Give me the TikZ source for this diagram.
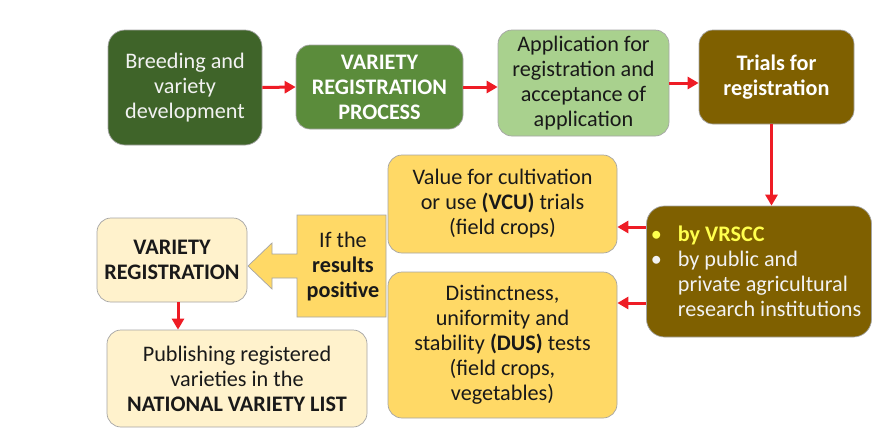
\documentclass[tikz,border=0pt]{standalone}
\usepackage{fontspec}
\setmainfont{Carlito}
\usetikzlibrary{arrows.meta}

\definecolor{greenD}{HTML}{3F6429}
\definecolor{greenM}{HTML}{5B8C3B}
\definecolor{greenL}{HTML}{A9D18E}
\definecolor{olive}{HTML}{7F6000}
\definecolor{goldL}{HTML}{FFD966}
\definecolor{creamL}{HTML}{FFF2CC}
\definecolor{arrred}{HTML}{EE1C25}
\definecolor{vrsccY}{HTML}{FFFF4D}
\definecolor{edgeG}{HTML}{A5A5A5}

\tikzset{
  txt/.style={font=\fontsize{22.2}{25}\selectfont, align=center},
  box/.style={txt, rounded corners=14pt, draw=edgeG, line width=0.7pt, inner sep=0pt},
  arr/.style={draw=arrred, line width=3pt, -{Triangle[length=11pt,width=12pt]}},
}

\begin{document}
\begin{tikzpicture}[x=1pt,y=-1pt]
\useasboundingbox[fill=white] (0,0) rectangle (874,437);

% top row
\node[box, fill=greenD, text=white!95!black, minimum width=154pt, minimum height=115pt, rounded corners=17pt]
  (b1) at (185,87.5) {Breeding and\\variety\\development};
\node[box, fill=greenM, text=white, minimum width=167pt, minimum height=84pt]
  (b2) at (379.5,87) {\bfseries VARIETY\\\bfseries REGISTRATION\\\bfseries PROCESS};
\node[box, fill=greenL, text=black!90, minimum width=171pt, minimum height=106pt]
  (b3) at (583.5,83) {Application for\\registration and\\acceptance of\\application};
\node[box, fill=olive, text=white, minimum width=155pt, minimum height=94pt]
  (b4) at (776.5,77) {\bfseries Trials for\\\bfseries registration};

% trial bodies
\node[box, fill=olive, minimum width=225pt, minimum height=131pt, rounded corners=18pt]
  (vr) at (759,271.5) {};
\node[txt, align=left, anchor=west, text=white!95!black, inner sep=0pt]
  (vrtext) at ([xshift=31.5pt]vr.west)
  {\makebox[0pt][r]{\textcolor{vrsccY}{\textbullet}\hspace{16pt}}\textcolor{vrsccY}{\bfseries by VRSCC}\\
   \makebox[0pt][r]{\textbullet\hspace{16pt}}by public and\\
   private agricultural\\
   research institutions};

% trial types
\node[box, fill=goldL, text=black!90, minimum width=229pt, minimum height=98pt]
  (vcu) at (502.5,204) {Value for cultivation\\or use \textbf{(VCU)} trials\\(field crops)};
\node[box, fill=goldL, text=black!90, minimum width=229pt, minimum height=146pt]
  (dus) at (502.5,345) {Distinctness,\\uniformity and\\stability \textbf{(DUS)} tests\\(field crops,\\vegetables)};

% decision callout
\draw[fill=goldL, draw=edgeG, line width=0.7pt]
  (297,215) -- (386,215) -- (386,317) -- (297,317) -- (297,278) -- (272,278)
  -- (272,289) -- (248,266) -- (272,243) -- (272,254) -- (297,254) -- cycle;
\node[txt, text=black!90, inner sep=0pt] (cl) at (343,267) {If the\\\textbf{results}\\\textbf{positive}};

% outcome
\node[box, fill=creamL, text=black!90, minimum width=150pt, minimum height=84pt]
  (vreg) at (172,260) {\bfseries VARIETY\\\bfseries REGISTRATION};
\node[box, fill=creamL, text=black!90, minimum width=260pt, minimum height=97pt]
  (pub) at (237,378.5) {Publishing registered\\varieties in the\\\textbf{NATIONAL VARIETY LIST}};

% connectors
\draw[arr] (b1.east) -- (b2.west);
\draw[arr] (b2.east) -- (b2.east -| b3.west);
\draw[arr] (b3.east) -- (b3.east -| b4.west);
\draw[arr] ([xshift=-5pt]b4.south) -- ([xshift=-5pt]b4.south |- vr.north);
\draw[arr] ([yshift=-23pt]vcu.east -| vr.west) -- ([yshift=-23pt]vcu.east);
\draw[arr] ([yshift=42pt]dus.east -| vr.west) -- ([yshift=42pt]dus.east);
\draw[arr] ([xshift=6pt]vreg.south) -- ([xshift=6pt]vreg.south |- pub.north);
\end{tikzpicture}
\end{document}
